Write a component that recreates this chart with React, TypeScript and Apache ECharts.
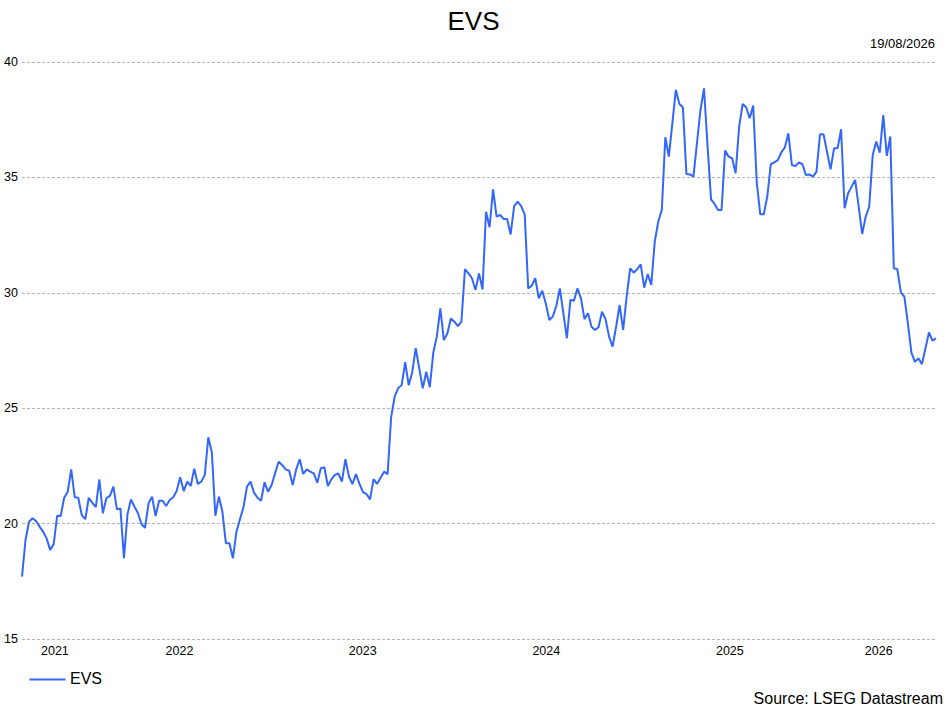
import { useEffect, useRef } from 'react';
import * as echarts from 'echarts';

const TITLE = 'EVS';
const SERIES_NAME = 'EVS';
const DATE_LABEL = '19/08/2026';
const SOURCE_LABEL = 'Source: LSEG Datastream';
const LAST_DATE = '2026-08-17';
const YEAR_LABELS = [2021, 2022, 2023, 2024, 2025, 2026];
const Y_MIN = 15;
const Y_MAX = 40;
const Y_STEP = 5;

// weekly closes
const evsA = [17.70, 19.29, 20.08, 20.23, 20.11, 19.87, 19.65, 19.36, 18.86, 19.10, 20.34, 20.33, 21.12, 21.38, 22.35, 21.14, 21.12, 20.37, 20.19, 21.12, 20.90, 20.71, 21.92, 20.45, 21.10, 21.20, 21.60, 20.62, 20.66, 18.50, 20.40, 21.05, 20.73];
const evsB = [20.45, 19.97, 19.82, 20.88, 21.17, 20.33, 20.99, 20.99, 20.76, 21.02, 21.14, 21.41, 22.01, 21.41, 21.82, 21.63, 22.38, 21.72, 21.82, 22.11, 23.74, 23.09, 20.34, 21.17, 20.52, 19.15, 19.15, 18.50, 19.65, 20.19, 20.71, 21.60, 21.82, 21.34];
const evsC = [21.12, 20.99, 21.79, 21.38, 21.67, 22.18, 22.68, 22.54, 22.35, 22.29, 21.67, 22.35, 22.79, 22.15, 22.35, 22.25, 22.18, 21.77, 22.40, 22.44, 21.63, 21.92, 22.11, 22.18, 21.82, 22.79, 22.04, 21.71, 22.14, 21.72, 21.36, 21.28, 21.05, 21.93, 21.72, 21.99, 22.25, 22.14];
const evsD = [24.60, 25.50, 25.86, 26.00, 26.99, 26.00, 26.55, 27.60, 26.73, 25.86, 26.58, 25.91, 27.41, 28.10, 29.33, 27.95, 28.24, 28.89, 28.75, 28.56, 28.75, 31.02, 30.84, 30.63, 30.12, 30.84];
const evsE = [30.15, 33.51, 32.84, 34.48, 33.30, 33.37, 33.20, 33.20, 32.53, 33.76, 33.95, 33.76, 33.40, 30.19, 30.31, 30.63, 29.76, 30.09, 29.54, 28.82, 28.97, 29.44, 30.19, 29.11, 28.03, 29.69, 29.66, 30.19, 29.76, 28.86, 29.11];
const evsF = [28.53, 28.39, 28.51, 29.18, 28.86, 28.10, 27.67, 28.53, 29.47, 28.39, 29.83, 31.06, 30.87, 31.02, 31.23, 30.22, 30.81, 30.34, 32.22, 33.09, 33.59];
const evsG = [36.74, 35.90, 37.34, 38.79, 38.18, 38.04, 35.15, 35.13, 35.03, 36.48, 37.92, 38.86, 36.40, 34.05, 33.85, 33.59, 33.59, 36.16, 35.90, 35.83, 35.18, 37.20, 38.18, 38.04, 37.56, 38.11, 34.82, 33.40, 33.40, 34.16, 35.57, 35.65, 35.75, 36.09, 36.30, 36.91, 35.54, 35.49, 35.65, 35.57, 35.10, 35.13, 35.03, 35.25, 36.87, 36.87, 36.11, 35.35, 36.26, 36.26, 37.08];
const evsH = [33.66, 34.31, 34.60, 34.89, 33.73, 32.55, 33.30, 33.73, 35.97, 36.55, 36.07, 37.70, 35.93, 36.77, 31.06, 31.02, 30.02, 29.83, 28.68, 27.41, 27.01, 27.16, 26.91, 27.60, 28.28, 27.93, 28.03];

const FONT = '"Liberation Sans", Arial, Helvetica, sans-serif';
const WEEK = 7 * 24 * 3600 * 1000;

export default function App() {
  const ref = useRef<HTMLDivElement>(null);
  useEffect(() => {
    document.body.style.margin = '0';
    if (!ref.current) return;
    const chart = echarts.init(ref.current, undefined, { renderer: 'svg' });
    const values = [...evsA, ...evsB, ...evsC, ...evsD, ...evsE, ...evsF, ...evsG, ...evsH];
    const last = Date.parse(LAST_DATE + 'T00:00:00Z');
    const n = values.length;
    const data = values.map((v, i) => [last - (n - 1 - i) * WEEK, v]);
    const first = data[0][0] as number;
    const centers = YEAR_LABELS.map((y) => {
      const a = Math.max(first, Date.UTC(y, 0, 1));
      const b = Math.min(last, Date.UTC(y + 1, 0, 1));
      return (a + b) / 2;
    });
    chart.setOption({
      animation: false,
      backgroundColor: '#fff',
      title: {
        text: TITLE,
        left: 'center',
        top: 3,
        textStyle: { fontFamily: FONT, fontSize: 26, fontWeight: 'normal', color: '#000' },
      },
      grid: { left: 22, right: 11, top: 62, bottom: 69 },
      legend: {
        left: 22,
        top: 665,
        itemWidth: 38,
        itemHeight: 14,
        itemGap: 10,
        textStyle: { fontFamily: FONT, fontSize: 16, color: '#000' },
        data: [{ name: SERIES_NAME, icon: 'rect', itemStyle: { color: 'transparent' } }],
      },
      xAxis: {
        type: 'value',
        min: first,
        max: last,
        axisLine: { show: false },
        axisTick: { show: false },
        splitLine: { show: false },
        axisLabel: {
          customValues: centers,
          margin: 5,
          fontFamily: FONT,
          fontSize: 12.5,
          color: '#000',
          formatter: (v: number) => String(new Date(v).getUTCFullYear()),
        },
      },
      yAxis: {
        type: 'value',
        min: Y_MIN,
        max: Y_MAX,
        interval: Y_STEP,
        axisLine: { show: false },
        axisTick: { show: false },
        axisLabel: { margin: 4, fontFamily: FONT, fontSize: 12.5, color: '#000' },
        splitLine: { lineStyle: { color: '#b4b4b4', width: 1, type: [3, 2] } },
      },
      series: [
        {
          name: SERIES_NAME,
          type: 'line',
          data,
          symbol: 'none',
          lineStyle: { color: '#3366ff', width: 2 },
          itemStyle: { color: '#3366ff' },
        },
      ],
      graphic: [
        {
          type: 'line',
          left: 27,
          top: 677,
          shape: { x1: 0, y1: 0, x2: 36, y2: 0 },
          style: { stroke: '#3366ff', lineWidth: 2 },
          silent: true,
        },
        {
          type: 'text',
          right: 12,
          top: 37,
          style: { text: DATE_LABEL, fontFamily: FONT, fontSize: 13, fill: '#000' },
        },
        {
          type: 'text',
          right: 4,
          top: 690,
          style: { text: SOURCE_LABEL, fontFamily: FONT, fontSize: 16, fill: '#000' },
        },
      ],
    });
    return () => chart.dispose();
  }, []);
  return <div ref={ref} style={{ width: 947, height: 708 }} />;
}
